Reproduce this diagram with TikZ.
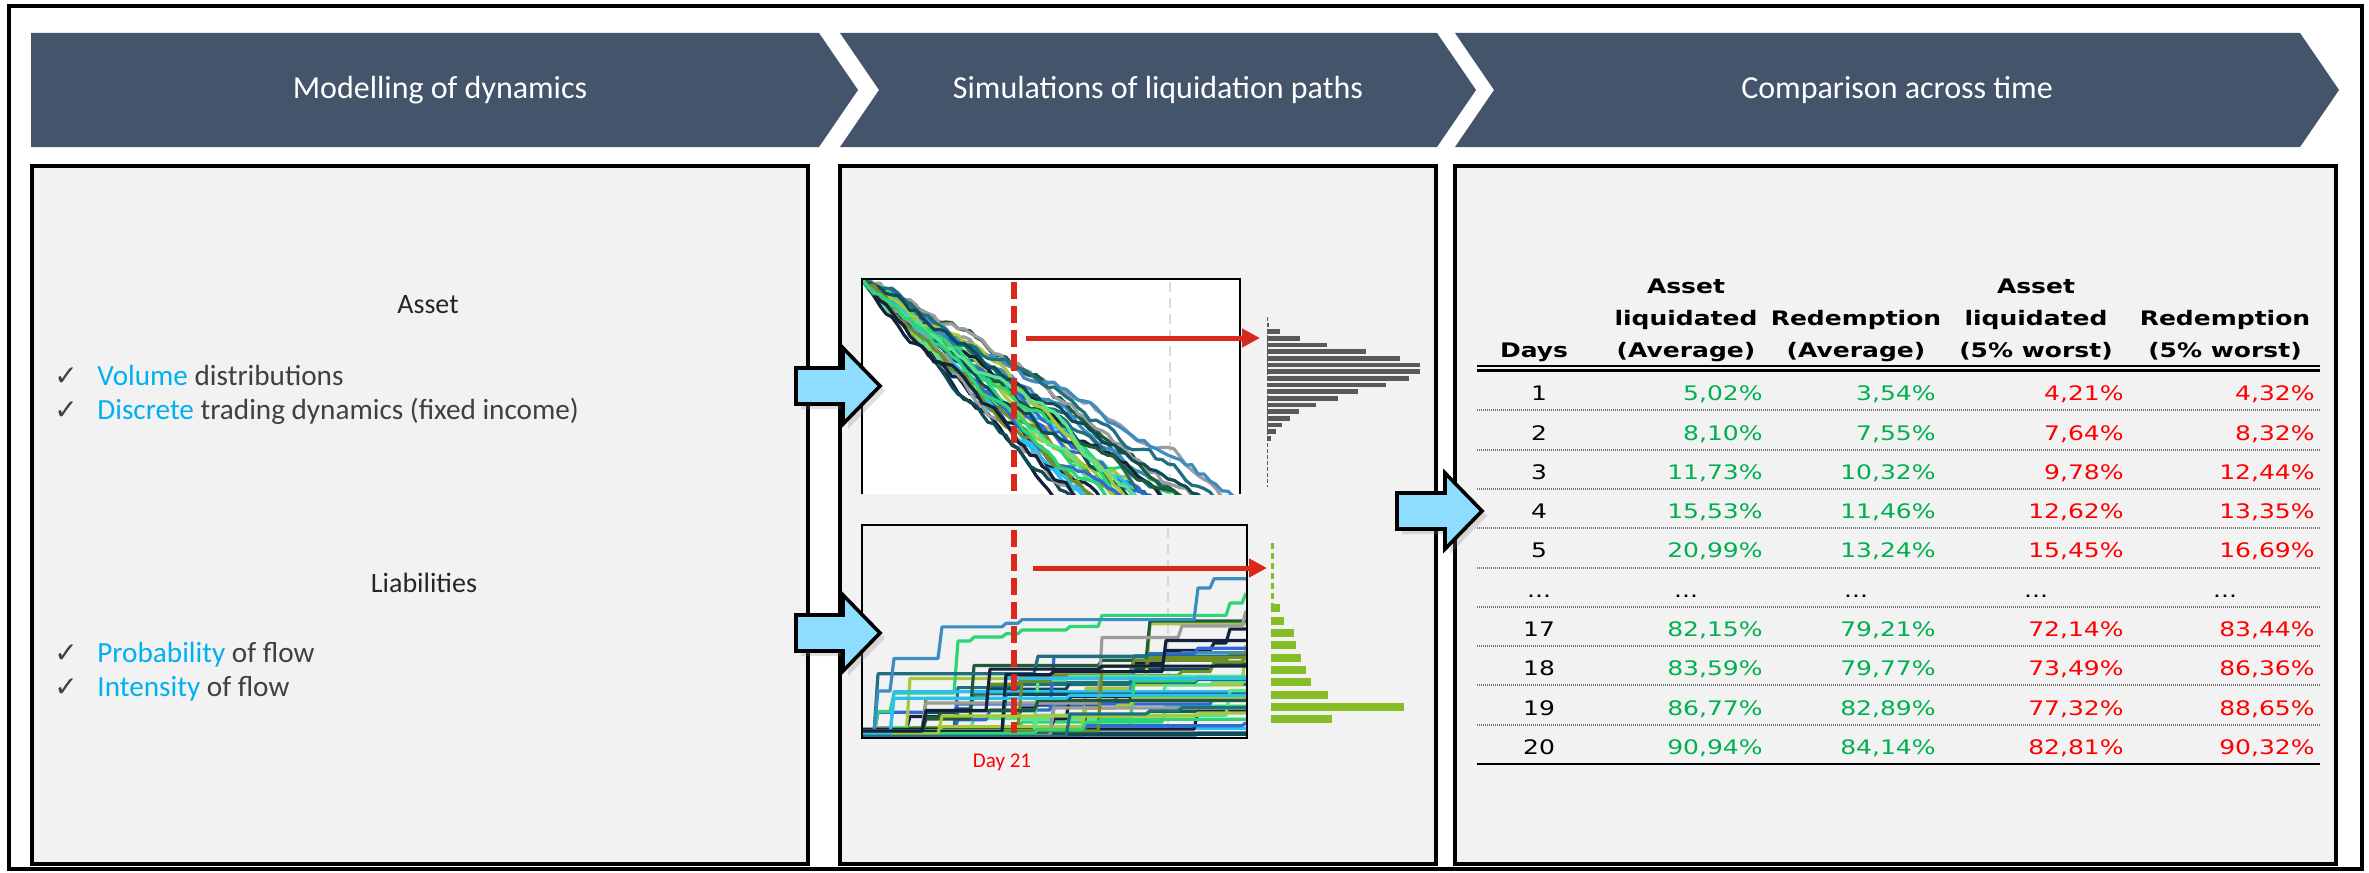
\documentclass[tikz,border=0pt]{standalone}
\usepackage{fontspec}
\setmainfont{Carlito}
\newfontfamily\tablefont[FakeStretch=1.25]{DejaVu Sans}
\newfontfamily\tickfont{DejaVu Sans}
\usetikzlibrary{positioning, arrows.meta, shadows}

\definecolor{bannerblue}{HTML}{44546A}
\definecolor{panelgray}{HTML}{F2F2F2}
\definecolor{arrowblue}{HTML}{8EDDFF}
\definecolor{hilite}{HTML}{00B0F0}
\definecolor{bodygray}{HTML}{404040}
\definecolor{headgray}{HTML}{262626}
\definecolor{goodgreen}{HTML}{00B050}
\definecolor{badred}{HTML}{FF0000}
\definecolor{markred}{HTML}{DA291C}
\definecolor{histgray}{HTML}{595959}
\definecolor{histgreen}{HTML}{86BC25}
\definecolor{pnavy}{HTML}{14213D}
\definecolor{pteal}{HTML}{1E6F80}
\definecolor{pgreen}{HTML}{2BD677}
\definecolor{plime}{HTML}{A8C83A}
\definecolor{pblue}{HTML}{3568D4}
\definecolor{pcyan}{HTML}{2BC0EE}
\definecolor{pgray}{HTML}{9C9C9C}
\definecolor{pdkgreen}{HTML}{1E5B3A}
\definecolor{polive}{HTML}{6F8E26}
\definecolor{pdkteal}{HTML}{0E4B57}
\definecolor{plgreen}{HTML}{5BE38C}
\definecolor{psteel}{HTML}{3D8DC4}

\begin{document}
\begin{tikzpicture}
    [
        x=0.5pt, y=-0.5pt,
        step_band/.style={fill=bannerblue},
        step_title/.style={text=white, font=\fontsize{16}{19}\selectfont},
        panel_box/.style={draw=black, fill=panelgray, line width=1.75pt},
        block_arrow/.style={draw=black, fill=arrowblue, line width=1.8pt, drop shadow={shadow xshift=2.5pt, shadow yshift=-2.5pt, opacity=0.25}},
        panel_head/.style={text=headgray, font=\fontsize{14}{17}\selectfont, anchor=base, inner sep=0pt},
        item_text/.style={text=bodygray, font=\fontsize{14.6}{17}\selectfont, anchor=base west, inner sep=0pt},
        tick_mark/.style={text=bodygray, font=\tickfont\fontsize{14}{16}\selectfont, anchor=base, inner sep=0pt},
        path_line/.style={line width=1.6pt, line join=round},
        day_line/.style={markred, line width=3pt, dash pattern=on 8.5pt off 3.5pt},
        grid_line/.style={black!15, line width=1pt, dash pattern=on 5pt off 3pt},
        mark_arrow/.style={markred, line width=2.5pt, -{Triangle[length=9pt, width=9pt]}},
        tab_head/.style={font=\tablefont\bfseries\fontsize{10}{16}\selectfont, anchor=base, inner sep=0pt},
        tab_num/.style={font=\tablefont\fontsize{10}{12}\selectfont, inner sep=0pt},
        row_rule/.style={black!55, line width=1pt, dash pattern=on 0.5pt off 0.5pt},
    ]
        \fill[white] (0,0) rectangle (2369,872);
        \useasboundingbox (0,0) rectangle (2369,872);
        \draw[line width=2pt] (9,6) rectangle (2362,869);

        \fill[step_band] (31,33) -- (819,33) -- (858,90) -- (819,147) -- (31,147) -- cycle;
        \fill[step_band] (840,33) -- (1437,33) -- (1476,90) -- (1437,147) -- (840,147) -- (879,90) -- cycle;
        \fill[step_band] (1455,33) -- (2300,33) -- (2339,90) -- (2300,147) -- (1455,147) -- (1494,90) -- cycle;
        \node[step_title] (title_model) at (440,90) {Modelling of dynamics};
        \node[step_title] (title_sim) at (1158,90) {Simulations of liquidation paths};
        \node[step_title] (title_comp) at (1897,90) {Comparison across time};

        \draw[panel_box] (32,166) rectangle (808,864);
        \draw[panel_box] (840,166) rectangle (1436,864);
        \draw[panel_box] (1455,166) rectangle (2336,864);

        \node[panel_head] (asset_head) at (428,313) {Asset};
        \node[item_text] (vol) at (97,385) {\textcolor{hilite}{Volume} distributions};
        \node[item_text] (disc) at (97,419) {\textcolor{hilite}{Discrete} trading dynamics (fixed income)};
        \node[panel_head] (liab_head) at (424,592) {Liabilities};
        \node[item_text] (prob) at (97,662) {\textcolor{hilite}{Probability} of flow};
        \node[item_text] (inten) at (97,696) {\textcolor{hilite}{Intensity} of flow};
        \foreach \n/\y in {vol/385, disc/419, prob/662, inten/696}
            \node[tick_mark] (tick_\n) at (66,\y) {✓};

        \fill[white] (862,279) rectangle (1240,494);
        \draw[grid_line] (1170,282) -- (1170,494);
        \pgfmathsetseed{11}
        \begin{scope}
            \clip (862,279) rectangle (1240,494);
            \foreach \col in {pnavy, pgreen, pteal, plime, pblue, pgray, pdkteal, pcyan, plgreen, polive, psteel, pdkgreen,
                              pteal, plime, pnavy, pgreen, pcyan, pblue, pdkgreen, pgray, plgreen, pdkteal, polive, psteel,
                              pgreen, pnavy, plime, pteal, pblue, pcyan, pdkteal, plgreen, pgray, polive, pnavy, pgreen} {
                \pgfmathsetmacro{\drift}{4.8+1.0*rand}
                \draw[path_line, \col] (862,279) \foreach \k in {1,...,66}{ -- ++(6,{\drift+5*rand}) };
            }
        \end{scope}
        \draw[line width=1pt] (862,494) -- (862,279) -- (1240,279) -- (1240,494);
        \draw[day_line] (1014,282) -- (1014,494);

        \draw[grid_line] (1168,528) -- (1168,736);
        \begin{scope}
            \clip (862,525) rectangle (1247,738);
            \foreach \col in {pnavy, pgreen, pteal, plime, pblue, pgray, pdkteal, pcyan, plgreen, polive, psteel, pdkgreen,
                              pteal, plime, pnavy, pgreen, pcyan, pblue, pdkgreen, pgray, plgreen, pdkteal, polive, psteel,
                              pgreen, pnavy, plime, pteal, pblue, pcyan, pdkteal, plgreen, pgray, polive, pnavy, pgreen,
                              psteel, pdkgreen, plime, pcyan, pnavy, pteal} {
                \pgfmathsetmacro{\lam}{0.05+0.2*rnd}
                \pgfmathsetmacro{\ystart}{737-8*rnd}
                \draw[path_line, \col] (862,\ystart) \foreach \k in {1,...,24}{ -- ++(12,0) -- ++(4,{-(rnd<\lam)*(3+65*rnd^4)}) };
            }
        \end{scope}
        \draw[line width=1pt] (862,525) rectangle (1247,738);
        \draw[day_line] (1014,530) -- (1014,733);
        \node[text=badred, font=\fontsize{10.5}{12}\selectfont, anchor=base, inner sep=0pt] (day_label) at (1002,767) {Day 21};

        \draw[histgray, line width=0.5pt, dash pattern=on 2pt off 1pt] (1267,317) -- (1267,487);
        \foreach \w [count=\i from 0] in {2,12.6,33,60,99,133,153,153,142,119,91,71,49,32,22.5,14.6,8.7,4}
            \fill[histgray] (1267,{322.7+6.67*\i}) rectangle ++(\w,4.6);
        \draw[histgreen, line width=1.5pt, dash pattern=on 3pt off 2pt] (1272,543) -- (1272,604);
        \foreach \w [count=\i from 0] in {8.7,12.7,23,24.5,29.7,34.8,40,56.5,133,60.5}
            \fill[histgreen] (1271,{604.3+12.34*\i}) rectangle ++(\w,8);

        \coordinate (up_from) at (1026,338);
        \coordinate (up_hist) at (1260,338);
        \coordinate (low_from) at (1033,568);
        \coordinate (low_hist) at (1267,568);
        \draw[mark_arrow] (up_from) -- (up_hist);
        \draw[mark_arrow] (low_from) -- (low_hist);

        \draw[block_arrow] (796,368) -- (843,368) -- (843,348) -- (880,386) -- (843,424) -- (843,404) -- (796,404) -- cycle;
        \draw[block_arrow] (796,615) -- (843,615) -- (843,595) -- (880,633) -- (843,671) -- (843,651) -- (796,651) -- cycle;
        \draw[block_arrow] (1397,493) -- (1445,493) -- (1445,473) -- (1482,511) -- (1445,549) -- (1445,529) -- (1397,529) -- cycle;

        \node[tab_head] (h_days) at (1534,357) {Days};
        \node[tab_head] (h_liq_avg) at (1686,357) {\begin{tabular}[b]{@{}c@{}}Asset\\liquidated\\(Average)\end{tabular}};
        \node[tab_head] (h_red_avg) at (1856,357) {\begin{tabular}[b]{@{}c@{}}Redemption\\(Average)\end{tabular}};
        \node[tab_head] (h_liq_worst) at (2036,357) {\begin{tabular}[b]{@{}c@{}}Asset\\liquidated\\(5\% worst)\end{tabular}};
        \node[tab_head] (h_red_worst) at (2225,357) {\begin{tabular}[b]{@{}c@{}}Redemption\\(5\% worst)\end{tabular}};
        \draw[line width=1.15pt] (1477,366) -- (2320,366);
        \draw[line width=1.15pt] (1477,370.5) -- (2320,370.5);
        \foreach \r/\d/\a/\b/\c/\e in {0/1/{5,02}/{3,54}/{4,21}/{4,32}, 1/2/{8,10}/{7,55}/{7,64}/{8,32},
                                       2/3/{11,73}/{10,32}/{9,78}/{12,44}, 3/4/{15,53}/{11,46}/{12,62}/{13,35},
                                       4/5/{20,99}/{13,24}/{15,45}/{16,69}, 6/17/{82,15}/{79,21}/{72,14}/{83,44},
                                       7/18/{83,59}/{79,77}/{73,49}/{86,36}, 8/19/{86,77}/{82,89}/{77,32}/{88,65},
                                       9/20/{90,94}/{84,14}/{82,81}/{90,32}} {
            \node[tab_num, anchor=base] (day\r) at (1539,{400.7+39.3*\r}) {\d};
            \node[tab_num, anchor=base east, text=goodgreen] (la\r) at (1763,{400.7+39.3*\r}) {\a\%};
            \node[tab_num, anchor=base east, text=goodgreen] (ra\r) at (1936,{400.7+39.3*\r}) {\b\%};
            \node[tab_num, anchor=base east, text=badred] (lw\r) at (2124,{400.7+39.3*\r}) {\c\%};
            \node[tab_num, anchor=base east, text=badred] (rw\r) at (2315,{400.7+39.3*\r}) {\e\%};
        }
        \foreach \x [count=\i] in {1539,1686,1856,2036,2225}
            \node[tab_num, anchor=base] (gap\i) at (\x,597) {...};
        \foreach \r in {0,...,8}
            \draw[row_rule] (1477,{410.3+39.3*\r}) -- (2320,{410.3+39.3*\r});
        \draw[line width=1.15pt] (1477,764) -- (2320,764);
    \end{tikzpicture}
\end{document}
